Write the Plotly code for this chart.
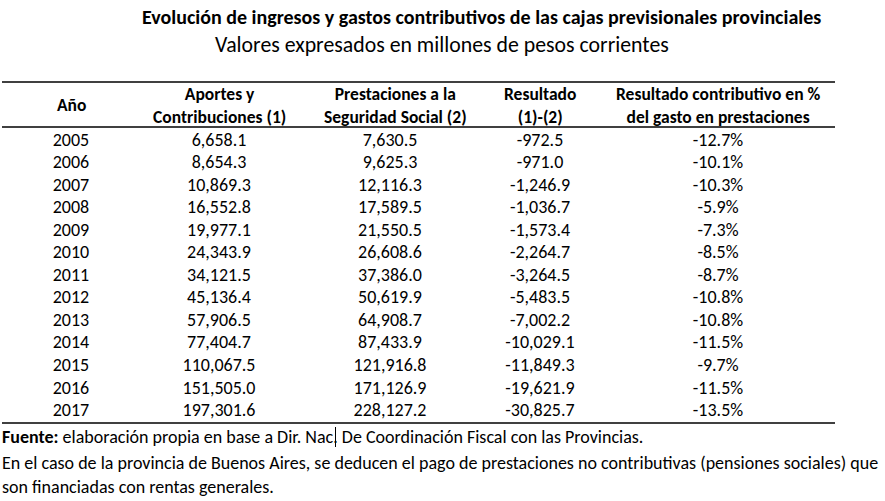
import plotly.graph_objects as go

years = ["2005", "2006", "2007", "2008", "2009", "2010", "2011", "2012", "2013", "2014", "2015", "2016", "2017"]
aportes = [6658.1, 8654.3, 10869.3, 16552.8, 19977.1, 24343.9, 34121.5, 45136.4, 57906.5, 77404.7, 110067.5, 151505.0, 197301.6]
prestaciones = [7630.5, 9625.3, 12116.3, 17589.5, 21550.5, 26608.6, 37386.0, 50619.9, 64908.7, 87433.9, 121916.8, 171126.9, 228127.2]
resultado = [-972.5, -971.0, -1246.9, -1036.7, -1573.4, -2264.7, -3264.5, -5483.5, -7002.2, -10029.1, -11849.3, -19621.9, -30825.7]
pct = [-12.7, -10.1, -10.3, -5.9, -7.3, -8.5, -8.7, -10.8, -10.8, -11.5, -9.7, -11.5, -13.5]

headers = ["Año", "Aportes y<br>Contribuciones (1)", "Prestaciones a la<br>Seguridad Social (2)",
           "Resultado<br>(1)-(2)", "Resultado contributivo en %<br>del gasto en prestaciones"]

FONT = "Carlito, Lato, 'Liberation Sans Narrow', sans-serif"
W, H = 885, 501
col_x = [71, 219, 390, 540, 718]
head_x = [71, 219, 395, 540, 718]
row0, row_step = 141, 22.55

fmt = lambda v: f"{v:,.1f}"
columns = [years, [fmt(v) for v in aportes], [fmt(v) for v in prestaciones],
           [fmt(v) for v in resultado], [f"{v:.1f}%" for v in pct]]

fig = go.Figure()
ys = [row0 + i * row_step for i in range(len(years))]
for cx, vals in zip(col_x, columns):
    fig.add_trace(go.Scatter(x=[cx] * len(vals), y=ys, mode="text", text=vals,
                             textposition="middle center",
                             textfont=dict(family=FONT, size=18, color="#000"),
                             hoverinfo="skip", showlegend=False))

for hx, h in zip(head_x, headers):
    fig.add_annotation(x=hx, y=105, text=f"<b>{h}</b>", showarrow=False, xanchor="center",
                       yanchor="middle", font=dict(family=FONT, size=17.5, color="#000"))

fig.add_annotation(x=481, y=17, text="<b>Evolución de ingresos y gastos contributivos de las cajas previsionales provinciales</b>",
                   showarrow=False, xanchor="center", yanchor="middle",
                   font=dict(family=FONT, size=20, color="#000"))
fig.add_annotation(x=442, y=44, text="Valores expresados en millones de pesos corrientes",
                   showarrow=False, xanchor="center", yanchor="middle",
                   font=dict(family=FONT, size=21.8, color="#000"))

footer = ["<b>Fuente:</b> elaboración propia en base a Dir. Nac. De Coordinación Fiscal con las Provincias.",
          "En el caso de la provincia de Buenos Aires, se deducen el pago de prestaciones no contributivas (pensiones sociales) que",
          "son financiadas con rentas generales."]
for y, t in zip([437, 463, 487], footer):
    fig.add_annotation(x=0, y=y, text=t, showarrow=False, xanchor="left", yanchor="middle",
                       font=dict(family=FONT, size=18, color="#000"))

for y in [82, 127, 423]:
    fig.add_shape(type="line", x0=2, x1=835, y0=y, y1=y, line=dict(color="#000", width=1.3))

# text-cursor mark visible in the original after "Nac"
fig.add_shape(type="line", x0=335.5, x1=335.5, y0=427, y1=447, line=dict(color="#000", width=1))

fig.update_layout(
    width=W, height=H, margin=dict(l=0, r=0, t=0, b=0),
    paper_bgcolor="white", plot_bgcolor="white",
    xaxis=dict(range=[0, W], visible=False, fixedrange=True),
    yaxis=dict(range=[H, 0], visible=False, fixedrange=True),
)
fig.write_html("out.html", config={"displayModeBar": False},
               post_script="document.body.style.margin='0';document.body.style.overflow='hidden';")
